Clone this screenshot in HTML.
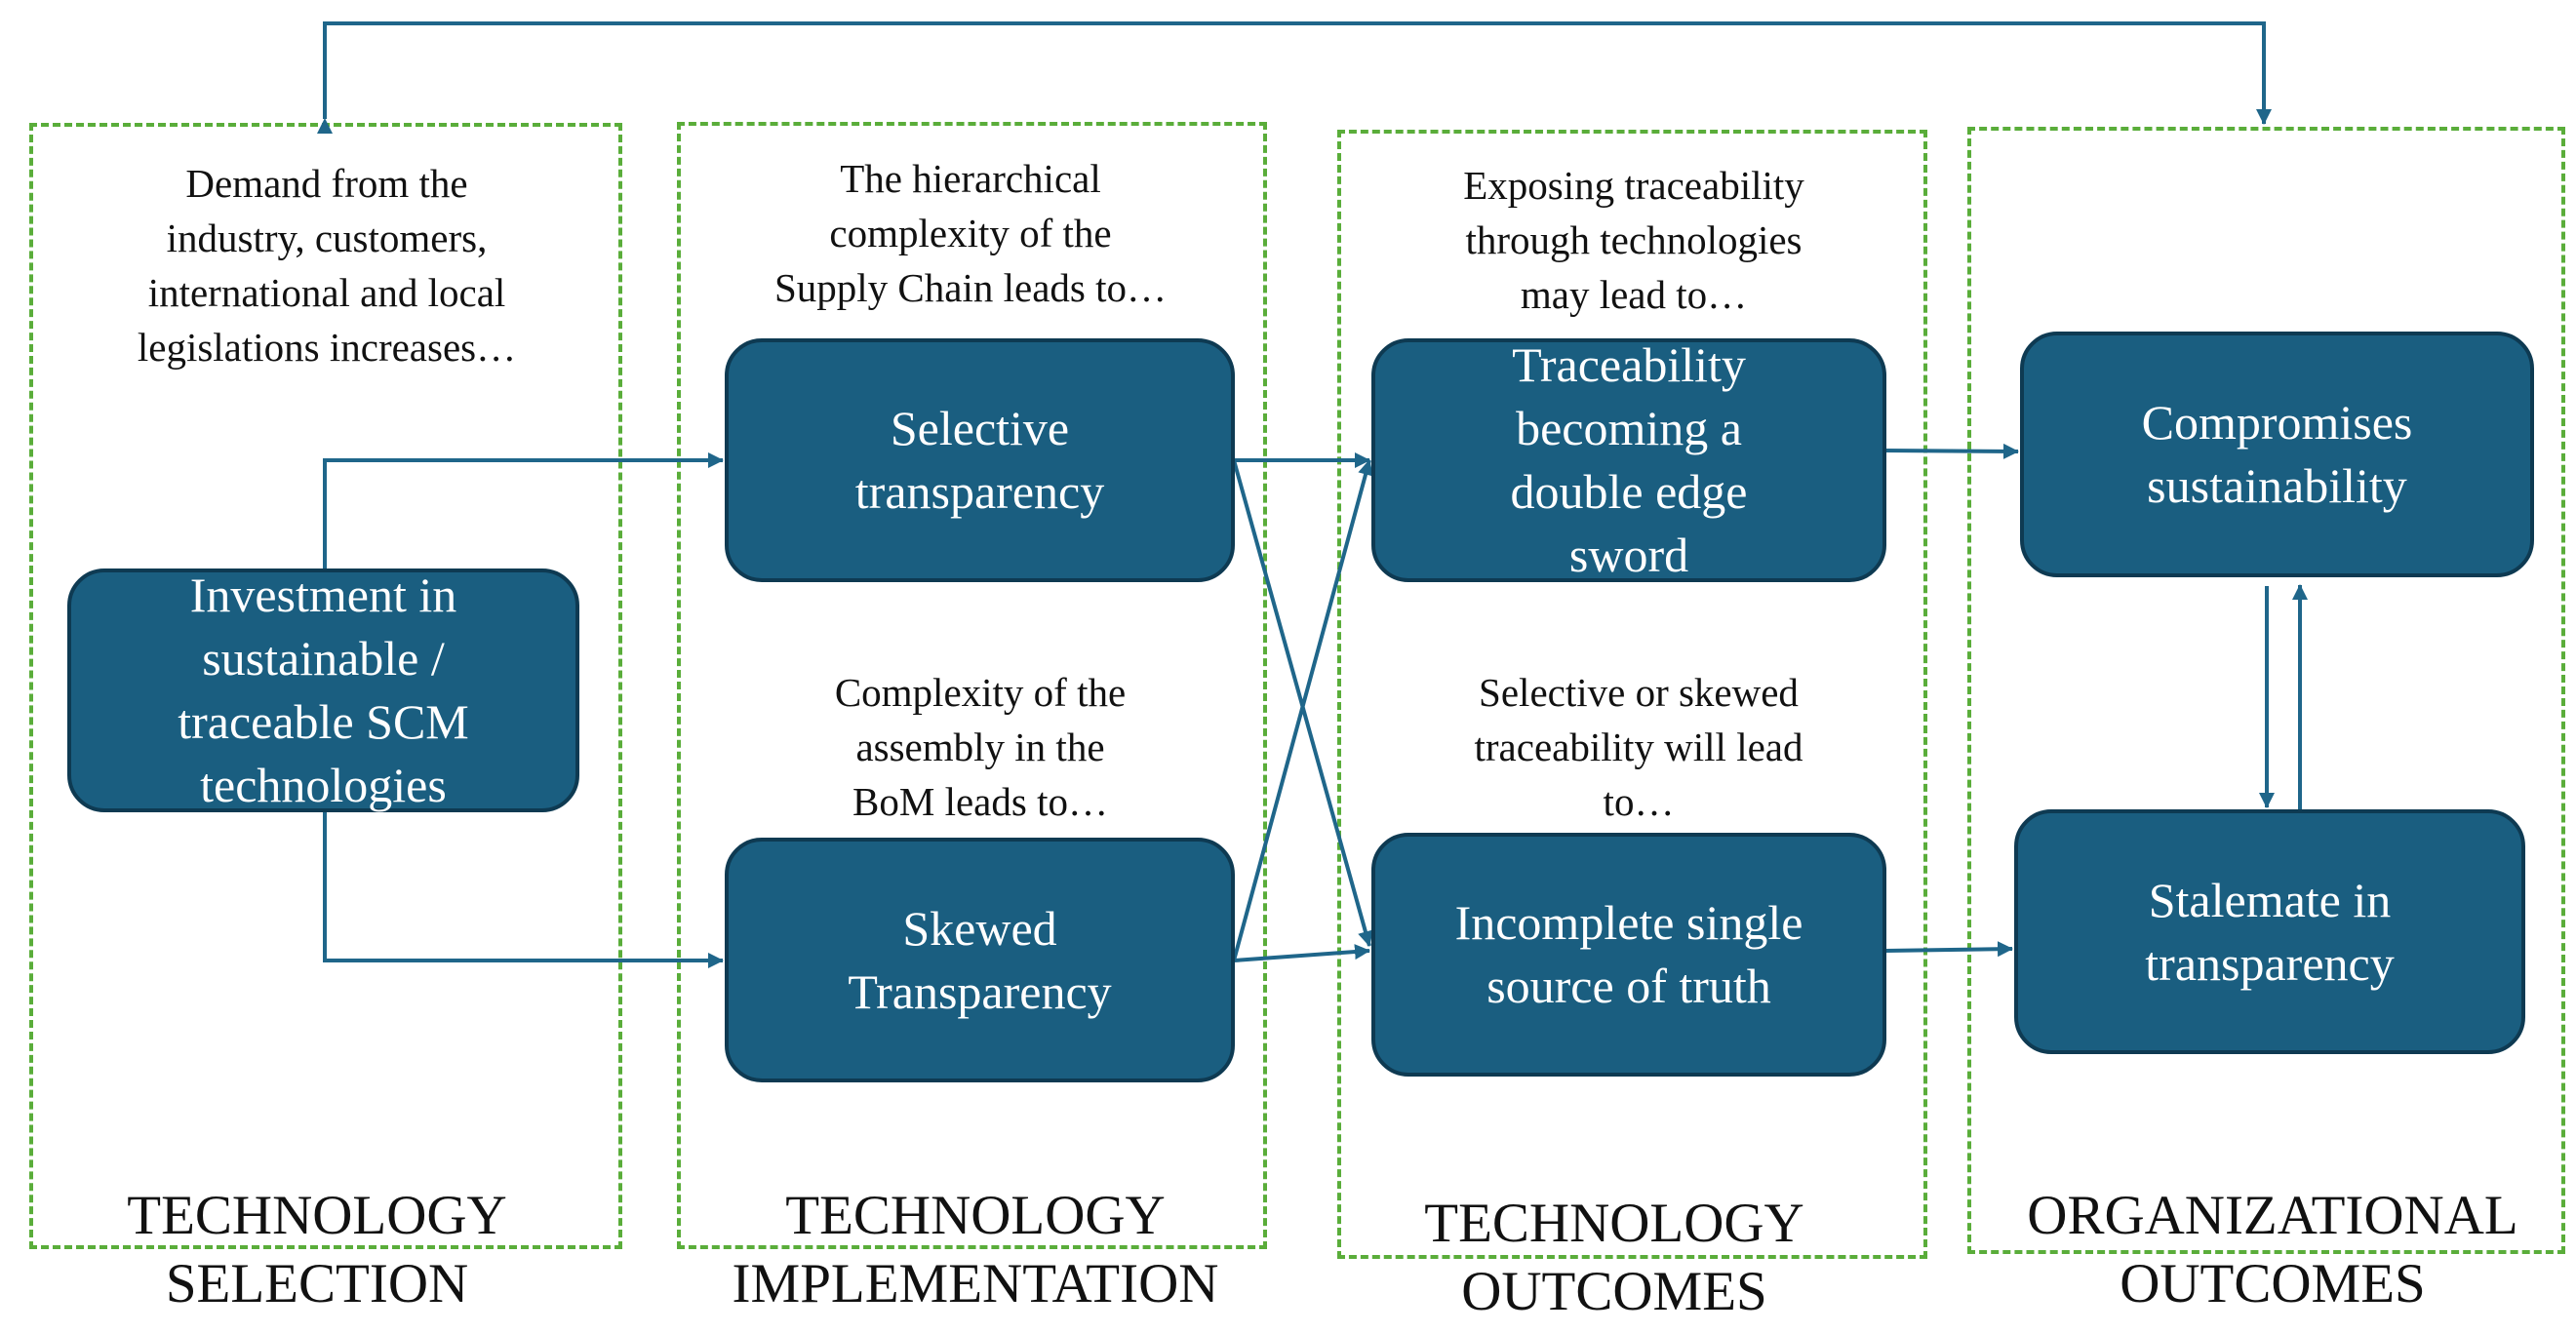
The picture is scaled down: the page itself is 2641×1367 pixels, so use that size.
<!DOCTYPE html>
<html><head><meta charset="utf-8"><style>
html,body{margin:0;padding:0;background:#fff;}
body{width:2641px;height:1367px;position:relative;overflow:hidden;font-family:"Liberation Serif",serif;}
.box{position:absolute;border:4px dashed #5aad3a;box-sizing:border-box;}
.node{position:absolute;background:#1a5e80;border:4px solid #0e3a52;border-radius:38px;box-sizing:border-box;color:#fff;font-size:50px;line-height:65px;display:flex;align-items:center;justify-content:center;text-align:center;}
.t{position:absolute;text-align:center;font-size:41px;line-height:56px;color:#111;}
.c{position:absolute;text-align:center;font-size:57px;line-height:70px;color:#111;white-space:nowrap;}
svg{position:absolute;left:0;top:0;}
</style></head><body>
<div class="box" style="left:30px;top:126px;width:608px;height:1155px"></div>
<div class="box" style="left:694px;top:125px;width:605px;height:1156px"></div>
<div class="box" style="left:1371px;top:133px;width:605px;height:1158px"></div>
<div class="box" style="left:2017px;top:130px;width:613px;height:1156px"></div>

<div class="t" style="left:40px;top:160px;width:590px">Demand from the<br>industry, customers,<br>international and local<br>legislations increases…</div>
<div class="t" style="left:700px;top:155px;width:590px">The hierarchical<br>complexity of the<br>Supply Chain leads to…</div>
<div class="t" style="left:710px;top:682px;width:590px">Complexity of the<br>assembly in the<br>BoM leads to…</div>
<div class="t" style="left:1380px;top:162px;width:590px">Exposing traceability<br>through technologies<br>may lead to…</div>
<div class="t" style="left:1385px;top:682px;width:590px">Selective or skewed<br>traceability will lead<br>to…</div>

<svg width="2641" height="1367">
<defs><marker id="a" markerWidth="10" markerHeight="10" refX="9" refY="5" orient="auto" markerUnits="userSpaceOnUse"><path d="M0,0 L10,5 L0,10 z" fill="#1f668a"/></marker>
<marker id="b" markerWidth="16" markerHeight="16" refX="15" refY="8" orient="auto" markerUnits="userSpaceOnUse"><path d="M0,0 L16,8 L0,16 z" fill="#1f668a"/></marker></defs>
<g stroke="#1f668a" stroke-width="4" fill="none">
<polyline points="333,122 333,24 2321,24 2321,127" marker-end="url(#b)" marker-start="url(#b)"/>
<polyline points="333,583 333,472 741,472" marker-end="url(#b)"/>
<polyline points="333,832 333,985 741,985" marker-end="url(#b)"/>
<line x1="1265" y1="472" x2="1404" y2="472" marker-end="url(#b)"/>
<line x1="1265" y1="472" x2="1404" y2="970" marker-end="url(#b)"/>
<line x1="1265" y1="985" x2="1404" y2="472" marker-end="url(#b)"/>
<line x1="1265" y1="985" x2="1404" y2="975" marker-end="url(#b)"/>
<line x1="1933" y1="462" x2="2069" y2="463" marker-end="url(#b)"/>
<line x1="1933" y1="975" x2="2063" y2="973" marker-end="url(#b)"/>
<line x1="2324" y1="601" x2="2324" y2="828" marker-end="url(#b)"/>
<line x1="2358" y1="830" x2="2358" y2="600" marker-end="url(#b)"/>
</g></svg>
<style>svg marker path{}</style>

<div class="node" style="left:69px;top:583px;width:525px;height:250px">Investment in<br>sustainable /<br>traceable SCM<br>technologies</div>
<div class="node" style="left:743px;top:347px;width:523px;height:250px">Selective<br>transparency</div>
<div class="node" style="left:743px;top:859px;width:523px;height:251px">Skewed<br>Transparency</div>
<div class="node" style="left:1406px;top:347px;width:528px;height:250px">Traceability<br>becoming a<br>double edge<br>sword</div>
<div class="node" style="left:1406px;top:854px;width:528px;height:250px">Incomplete single<br>source of truth</div>
<div class="node" style="left:2071px;top:340px;width:527px;height:252px">Compromises<br>sustainability</div>
<div class="node" style="left:2065px;top:830px;width:524px;height:251px">Stalemate in<br>transparency</div>

<div class="c" style="left:30px;top:1212px;width:590px">TECHNOLOGY<br>SELECTION</div>
<div class="c" style="left:700px;top:1212px;width:600px">TECHNOLOGY<br>IMPLEMENTATION</div>
<div class="c" style="left:1360px;top:1220px;width:590px">TECHNOLOGY<br>OUTCOMES</div>
<div class="c" style="left:2030px;top:1212px;width:600px">ORGANIZATIONAL<br>OUTCOMES</div>
</body></html>
